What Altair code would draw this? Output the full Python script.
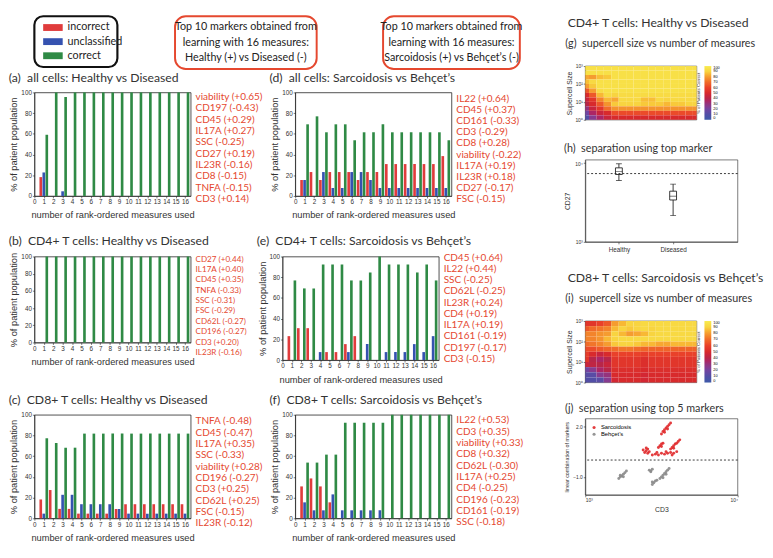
import altair as alt
import pandas as pd

# ---------------- data ----------------
categories = ["incorrect", "unclassified", "correct"]
measures = list(range(1, 17))

a_incorrect = [18.2, 0, 0, 0, 0, 0, 0, 0, 0, 0, 0, 0, 0, 0, 0, 0]
a_unclassified = [22.7, 0, 4.5, 0, 0, 0, 0, 0, 0, 0, 0, 0, 0, 0, 0, 0]
a_correct = [59.1, 100, 95.5, 100, 100, 100, 100, 100, 100, 100, 100, 100, 100, 100, 100, 100]

b_incorrect = [0, 0, 0, 0, 0, 0, 0, 0, 0, 0, 0, 0, 0, 0, 0, 0]
b_unclassified = [0, 0, 0, 0, 0, 0, 0, 0, 0, 0, 0, 0, 0, 0, 0, 0]
b_correct = [100, 100, 100, 100, 100, 100, 100, 100, 100, 100, 100, 100, 100, 100, 100, 100]

c_incorrect = [18.2, 27.3, 9.1, 9.1, 4.5, 4.5, 4.5, 4.5, 9.1, 13.6, 13.6, 13.6, 13.6, 13.6, 13.6, 13.6]
c_unclassified = [4.5, 0, 22.7, 22.7, 13.6, 13.6, 13.6, 13.6, 9.1, 4.5, 4.5, 4.5, 4.5, 4.5, 4.5, 4.5]
c_correct = [77.3, 72.7, 68.2, 68.2, 81.8, 81.8, 81.8, 81.8, 81.8, 81.8, 81.8, 81.8, 81.8, 81.8, 81.8, 81.8]

d_incorrect = [15.4, 23.1, 15.4, 23.1, 23.1, 23.1, 15.4, 23.1, 23.1, 30.8, 30.8, 30.8, 30.8, 30.8, 30.8, 38.5]
d_unclassified = [15.4, 0, 23.1, 7.7, 7.7, 23.1, 23.1, 15.4, 7.7, 7.7, 7.7, 7.7, 7.7, 7.7, 7.7, 7.7]
d_correct = [69.2, 76.9, 61.5, 69.2, 69.2, 53.8, 61.5, 61.5, 69.2, 61.5, 61.5, 61.5, 61.5, 61.5, 61.5, 53.8]

e_incorrect = [23.1, 30.8, 30.8, 0, 7.7, 7.7, 15.4, 23.1, 0, 0, 0, 0, 0, 0, 0, 0]
e_unclassified = [0, 0, 0, 7.7, 0, 0, 7.7, 0, 15.4, 0, 7.7, 7.7, 7.7, 15.4, 7.7, 23.1]
e_correct = [76.9, 69.2, 69.2, 92.3, 92.3, 92.3, 76.9, 76.9, 84.6, 100, 92.3, 92.3, 92.3, 84.6, 92.3, 76.9]

f_incorrect = [30.8, 38.5, 30.8, 15.4, 0, 0, 0, 0, 0, 0, 0, 0, 0, 0, 0, 0]
f_unclassified = [15.4, 7.7, 7.7, 23.1, 7.7, 7.7, 7.7, 7.7, 7.7, 0, 0, 0, 0, 0, 0, 0]
f_correct = [53.8, 53.8, 61.5, 61.5, 92.3, 92.3, 92.3, 92.3, 92.3, 100, 100, 100, 100, 100, 100, 100]

a_markers = ["viability (+0.65)", "CD197 (-0.43)", "CD45 (+0.29)", "IL17A (+0.27)", "SSC (-0.25)",
             "CD27 (+0.19)", "IL23R (-0.16)", "CD8 (-0.15)", "TNFA (-0.15)", "CD3 (+0.14)"]
b_markers = ["CD27 (+0.44)", "IL17A (+0.40)", "CD45 (+0.35)", "TNFA (-0.33)", "SSC (-0.31)",
             "FSC (-0.29)", "CD62L (-0.27)", "CD196 (-0.27)", "CD3 (+0.20)", "IL23R (-0.16)"]
c_markers = ["TNFA (-0.48)", "CD45 (-0.47)", "IL17A (+0.35)", "SSC (-0.33)", "viability (+0.28)",
             "CD196 (-0.27)", "CD3 (+0.25)", "CD62L (+0.25)", "FSC (-0.15)", "IL23R (-0.12)"]
d_markers = ["IL22 (+0.64)", "CD45 (+0.37)", "CD161 (-0.33)", "CD3 (-0.29)", "CD8 (+0.28)",
             "viability (-0.22)", "IL17A (+0.19)", "IL23R (+0.18)", "CD27 (-0.17)", "FSC (-0.15)"]
e_markers = ["CD45 (+0.64)", "IL22 (+0.44)", "SSC (-0.25)", "CD62L (-0.25)", "IL23R (+0.24)",
             "CD4 (+0.19)", "IL17A (+0.19)", "CD161 (-0.19)", "CD197 (-0.17)", "CD3 (-0.15)"]
f_markers = ["IL22 (+0.53)", "CD3 (+0.35)", "viability (+0.33)", "CD8 (+0.32)", "CD62L (-0.30)",
             "IL17A (+0.25)", "CD4 (-0.25)", "CD196 (-0.23)", "CD161 (-0.19)", "SSC (-0.18)"]

callout1_lines = ["Top 10 markers obtained from", "learning with 16 measures:", "Healthy (+) vs Diseased (-)"]
callout2_lines = ["Top 10 markers obtained from", "learning with 16 measures:", "Sarcoidosis (+) vs Behçet’s (-)"]

# heatmap (g): rows from top (10^2.75-10^3) to bottom (10^0-10^0.25), 16 columns
g_rows = [
    [95, 95, 95, 95, 95, 95, 95, 95, 95, 95, 95, 95, 95, 95, 95, 95],
    [95, 95, 95, 95, 95, 95, 95, 95, 95, 95, 95, 95, 95, 95, 95, 95],
    [82, 80, 86, 88, 95, 95, 95, 95, 95, 95, 95, 95, 95, 95, 95, 95],
    [86, 92, 95, 95, 95, 95, 95, 95, 95, 95, 95, 95, 95, 95, 95, 95],
    [80, 88, 95, 95, 95, 95, 95, 95, 95, 95, 95, 95, 95, 95, 95, 95],
    [65, 80, 93, 95, 95, 95, 95, 95, 95, 95, 95, 95, 95, 95, 95, 95],
    [50, 65, 85, 93, 90, 93, 93, 93, 93, 93, 93, 93, 93, 93, 93, 93],
    [45, 55, 75, 85, 82, 92, 92, 92, 86, 86, 92, 90, 92, 92, 92, 92],
    [40, 50, 65, 78, 88, 90, 90, 90, 88, 88, 88, 85, 88, 88, 90, 90],
    [30, 45, 55, 70, 78, 78, 78, 78, 78, 78, 78, 78, 78, 78, 78, 78],
    [20, 35, 45, 50, 62, 62, 62, 62, 62, 62, 62, 62, 62, 62, 62, 62],
    [10, 25, 35, 45, 50, 50, 50, 50, 50, 50, 50, 50, 50, 50, 50, 50],
]
# heatmap (i)
i_rows = [
    [55, 55, 60, 65, 80, 85, 90, 90, 92, 92, 92, 92, 92, 92, 92, 92],
    [65, 70, 72, 75, 85, 90, 88, 90, 92, 90, 92, 92, 92, 92, 92, 92],
    [75, 75, 78, 80, 90, 85, 80, 82, 85, 90, 92, 92, 92, 92, 92, 92],
    [75, 75, 78, 85, 90, 92, 92, 92, 92, 92, 92, 92, 92, 92, 92, 92],
    [70, 72, 75, 80, 88, 90, 90, 88, 85, 85, 82, 82, 85, 85, 85, 85],
    [62, 62, 65, 68, 70, 72, 72, 70, 68, 68, 68, 68, 68, 68, 68, 68],
    [58, 50, 45, 50, 60, 60, 60, 60, 58, 60, 60, 60, 60, 60, 60, 60],
    [55, 40, 35, 40, 55, 55, 55, 55, 52, 55, 55, 55, 55, 55, 55, 55],
    [45, 42, 40, 45, 55, 55, 55, 55, 52, 55, 55, 55, 55, 55, 55, 55],
    [20, 25, 35, 40, 52, 52, 52, 52, 50, 52, 52, 52, 52, 52, 52, 52],
    [12, 12, 25, 30, 50, 50, 50, 50, 48, 50, 50, 50, 50, 50, 50, 50],
    [10, 10, 12, 25, 48, 50, 50, 50, 48, 50, 50, 50, 50, 50, 50, 50],
]

# boxplot (h): CD27
box_groups = ["Healthy", "Diseased"]
box_pos = [1, 2]
box_lo = [6000, 2160]
box_q1 = [7160, 3400]
box_med = [7800, 3800]
box_q3 = [8700, 4400]
box_hi = [9800, 5400]
box_threshold = [7360]

# scatter (j): log10(CD3), linear combination of markers
sarc_logx = [3.39, 3.40, 3.41, 3.40, 3.42, 3.38, 3.41,
             3.50, 3.51, 3.52, 3.53, 3.54, 3.55, 3.52, 3.54, 3.56,
             3.48, 3.49, 3.50, 3.51, 3.50,
             3.44, 3.46, 3.48, 3.50, 3.52, 3.54, 3.56, 3.58, 3.60, 3.47, 3.53, 3.57,
             3.56, 3.57, 3.58, 3.59, 3.60, 3.61, 3.62, 3.58]
sarc_y = [0.45, 0.55, 0.65, 0.72, 0.50, 0.60, 0.40,
          1.55, 1.70, 1.80, 1.90, 2.00, 2.10, 1.65, 1.85, 2.20,
          0.75, 0.85, 0.95, 1.00, 0.80,
          0.30, 0.35, 0.30, 0.40, 0.35, 0.40, 0.45, 0.40, 0.50, 0.45, 0.50, 0.30,
          0.65, 0.75, 0.85, 0.95, 1.00, 1.10, 1.20, 0.70]
behc_logx = [3.22, 3.23, 3.24, 3.25, 3.26, 3.27, 3.23, 3.25,
             3.42, 3.43, 3.44, 3.43,
             3.44, 3.45, 3.46, 3.44, 3.47,
             3.49, 3.50, 3.51, 3.52, 3.53, 3.54, 3.55, 3.51, 3.53]
behc_y = [-1.10, -1.00, -0.95, -0.85, -0.75, -0.65, -0.90, -1.00,
          -0.60, -0.70, -0.55, -0.65,
          -1.45, -1.35, -1.25, -1.30, -1.20,
          -1.10, -1.00, -0.90, -0.80, -0.70, -0.60, -0.50, -1.05, -0.85]

# ---------------- styles ----------------
RED, BLUE, GREEN = "#d93a3a", "#2c3f9e", "#2e8540"
TXT_RED = "#e5482f"
INK = "#333333"
TFONT = "Lato"
AFONT = "Liberation Sans"
HEAT = alt.Scale(domain=[0, 10, 20, 30, 40, 50, 60, 70, 80, 90, 100],
                 range=["#3d5aa8", "#524ea6", "#7244a0", "#95337c", "#b82648", "#d82a2c",
                        "#e9412a", "#f06b2a", "#f59c30", "#f8d440", "#f8ec50"])
BAR_W = 160


def bar_panel(inc, unc, cor, h):
    df = pd.DataFrame({
        "n": measures * 3,
        "cat": [categories[0]] * 16 + [categories[1]] * 16 + [categories[2]] * 16,
        "v": inc + unc + cor,
        "k": [-1] * 16 + [0] * 16 + [1] * 16,
    })
    return alt.Chart(df).transform_calculate(
        x0="datum.n + datum.k*0.32 - 0.14", x1="datum.n + datum.k*0.32 + 0.14"
    ).mark_bar().encode(
        x=alt.X("x0:Q", scale=alt.Scale(domain=[0, 16.6], nice=False, zero=False),
                axis=alt.Axis(values=list(range(17)), title="number of rank-ordered measures used",
                              labelFontSize=6.5, titleFontSize=9.5, tickSize=2, labelPadding=1,
                              titlePadding=5, labelFlush=False)),
        x2="x1:Q",
        y=alt.Y("v:Q", scale=alt.Scale(domain=[0, 100], nice=False),
                axis=alt.Axis(values=[0, 20, 40, 60, 80, 100], title="% of patient population",
                              labelFontSize=6.5, titleFontSize=9.5, tickSize=2, labelPadding=1,
                              titlePadding=2)),
        y2=alt.datum(0),
        color=alt.Color("cat:N", scale=alt.Scale(domain=categories, range=[RED, BLUE, GREEN]), legend=None),
    ).properties(width=BAR_W, height=h, view=alt.ViewBackground(stroke="#222", strokeWidth=0.8))


def text_panel(labels, h, pad, fs=10.2):
    df = pd.DataFrame({"rank": list(range(len(labels))), "label": labels})
    return alt.Chart(df).mark_text(align="left", baseline="middle", font=TFONT, fontSize=fs,
                                   color=TXT_RED).encode(
        x=alt.value(0),
        y=alt.Y("rank:O", scale=alt.Scale(type="point", padding=pad), axis=None),
        text="label:N",
    ).properties(width=56, height=h)


def group(bar, txt, title):
    return alt.hconcat(bar, txt, spacing=5, bounds="flush",
                       title=alt.TitleParams(title, anchor="start", fontSize=12.5, font=TFONT,
                                             color=INK, fontWeight="normal", offset=5))


ga = group(bar_panel(a_incorrect, a_unclassified, a_correct, 106), text_panel(a_markers, 114, 0.42),
           "(a)\u00a0\u00a0all cells: Healthy vs Diseased")
gb = group(bar_panel(b_incorrect, b_unclassified, b_correct, 88), text_panel(b_markers, 102, 0.3, 8.3),
           "(b)\u00a0\u00a0CD4+ T cells: Healthy vs Diseased")
gc = group(bar_panel(c_incorrect, c_unclassified, c_correct, 106), text_panel(c_markers, 118, 0.58),
           "(c)\u00a0\u00a0CD8+ T cells: Healthy vs Diseased")
gd = group(bar_panel(d_incorrect, d_unclassified, d_correct, 106), text_panel(d_markers, 116, 0.58),
           "(d)\u00a0\u00a0all cells: Sarcoidosis vs Behçet’s")
ge = group(bar_panel(e_incorrect, e_unclassified, e_correct, 106), text_panel(e_markers, 106, 0.1),
           "(e)\u00a0\u00a0CD4+ T cells: Sarcoidosis vs Behçet’s")
gf = group(bar_panel(f_incorrect, f_unclassified, f_correct, 106), text_panel(f_markers, 116, 0.5),
           "(f)\u00a0\u00a0CD8+ T cells: Sarcoidosis vs Behçet’s")

# ---- top row: legend box and callouts ----
leg_df = pd.DataFrame({"cat": categories})
leg_base = alt.Chart(leg_df).encode(
    y=alt.Y("cat:N", sort=categories, axis=None, scale=alt.Scale(type="point", padding=0.8)))
leg_sw = leg_base.mark_point(shape="M-1,-0.35H1V0.35H-1Z", filled=True, size=400, opacity=1).encode(
    x=alt.value(19), color=alt.Color("cat:N", scale=alt.Scale(domain=categories, range=["#e03c3c", "#3552b0", "#2f8a45"]), legend=None))
leg_tx = leg_base.mark_text(align="left", baseline="middle", fontSize=11, font=TFONT, color="#222").encode(
    x=alt.value(34), text="cat:N")
legend_box = alt.layer(leg_sw, leg_tx).properties(
    width=85, height=52, view=alt.ViewBackground(stroke="#111", strokeWidth=2.2, cornerRadius=9))


def callout(lines, w, h):
    df = pd.DataFrame({"i": list(range(len(lines))), "t": lines})
    return alt.Chart(df).mark_text(fontSize=11, font=TFONT, color="#222", baseline="middle").encode(
        x=alt.value(w / 2),
        y=alt.Y("i:O", axis=None, scale=alt.Scale(type="point", padding=0.75)),
        text="t:N",
    ).properties(width=w, height=h, view=alt.ViewBackground(stroke=TXT_RED, strokeWidth=2, cornerRadius=11))


top_row = alt.hconcat(
    alt.hconcat(legend_box, callout(callout1_lines, 145, 54), spacing=50),
    callout(callout2_lines, 140, 54), spacing=62)

row1 = alt.hconcat(ga, gd, spacing=6)
row2 = alt.hconcat(gb, ge, spacing=6)
row3 = alt.hconcat(gc, gf, spacing=6)
left_block = alt.vconcat(
    top_row,
    alt.vconcat(row1, alt.vconcat(row2, row3, spacing=10), spacing=14),
    spacing=2)


# ---------------- right column ----------------
def header(text, w, h, fs):
    return alt.Chart(pd.DataFrame({"t": [text]})).mark_text(
        align="left", baseline="middle", fontSize=fs, font=TFONT, color=INK).encode(
        x=alt.value(-18), y=alt.value(h / 2), text="t:N").properties(width=w, height=h)


def heatmap(rows, h, w, title):
    recs = []
    nr = len(rows)
    for ri, row in enumerate(rows):
        for ci, v in enumerate(row):
            recs.append({"c": ci + 1, "r": nr - 1 - ri, "v": v})
    df = pd.DataFrame(recs)
    base = alt.Chart(df).transform_calculate(
        xa="max(1, datum.c - 0.5)", xb="min(16, datum.c + 0.5)",
        ya="pow(10, datum.r*0.25)", yb="pow(10, datum.r*0.25 + 0.25)",
    )
    xs = alt.Scale(domain=[1, 16], nice=False, zero=False)
    ys = alt.Scale(type="log", domain=[1, 1000], nice=False)
    rects = base.mark_rect().encode(
        x=alt.X("xa:Q", scale=xs,
                axis=alt.Axis(values=list(range(1, 17)), title="Number of Parameters", labelFontSize=5,
                              titleFontSize=7, tickSize=2, labelPadding=1, titlePadding=2)),
        x2="xb:Q",
        y=alt.Y("ya:Q", scale=ys,
                axis=alt.Axis(values=[1, 10, 100, 1000], title="Supercell Size", labelFontSize=5,
                              titleFontSize=7, tickSize=2, labelPadding=1, titlePadding=3,
                              labelExpr="datum.value == 1 ? '10⁰' : datum.value == 10 ? '10¹' : datum.value == 100 ? '10²' : '10³'")),
        y2="yb:Q",
        color=alt.Color("v:Q", scale=HEAT, legend=alt.Legend(
            type="gradient", title=None, direction="vertical", gradientLength=h, gradientThickness=7,
            values=[0, 10, 20, 30, 40, 50, 60, 70, 80, 90, 100], labelFontSize=4,
            offset=4, labelOffset=2, labelFont=AFONT, gradientStrokeWidth=0, labelOverlap=False)),
    )
    side = base.mark_rect(opacity=0).encode(
        x=alt.X("xa:Q", scale=xs, axis=None), x2="xb:Q",
        y=alt.Y("ya:Q", scale=ys, axis=alt.Axis(orient="right", title="% of Patients Correct", labels=False,
                                                 ticks=False, domain=False, titleFontSize=4.5, titleAngle=270,
                                                 titlePadding=4)),
        y2="yb:Q",
    )
    return alt.layer(rects, side).resolve_axis(y="independent").properties(
        width=w, height=h, view=alt.ViewBackground(stroke="#222", strokeWidth=0.6),
        title=alt.TitleParams(title, anchor="start", fontSize=11, font=TFONT, color=INK,
                              fontWeight="normal", offset=15))


box_df = pd.DataFrame({"g": box_groups, "pos": box_pos, "lo": box_lo, "q1": box_q1,
                       "med": box_med, "q3": box_q3, "hi": box_hi})
thr_df = pd.DataFrame({"thr": box_threshold})
bx = alt.X("pos:Q", scale=alt.Scale(domain=[0.47, 3.1], nice=False, zero=False),
           axis=alt.Axis(values=[1, 2], title=None, labelFontSize=6.5, tickSize=2, labelPadding=3,
                         labelExpr="datum.value == 1 ? 'Healthy' : 'Diseased'"))
by_scale = alt.Scale(type="log", domain=[1000, 11000], nice=False)
by_axis = alt.Axis(values=[1000, 10000], title="CD27", labelFontSize=5, titleFontSize=7, tickSize=2,
                   labelPadding=1, titlePadding=4,
                   labelExpr="datum.value == 1000 ? '10³' : '10⁴'")
box_base = alt.Chart(box_df)
whisk = box_base.mark_rule(color="#222", strokeWidth=0.9).encode(
    x=bx, y=alt.Y("lo:Q", scale=by_scale, axis=by_axis), y2="hi:Q")
caps_lo = box_base.mark_tick(color="#222", size=6, thickness=0.9, orient="horizontal").encode(x="pos:Q", y="lo:Q")
caps_hi = box_base.mark_tick(color="#222", size=6, thickness=0.9, orient="horizontal").encode(x="pos:Q", y="hi:Q")
boxes = box_base.mark_bar(fill="white", stroke="#222", strokeWidth=0.9, size=7).encode(
    x="pos:Q", y="q1:Q", y2="q3:Q")
meds = box_base.mark_tick(color="#222", size=7, thickness=0.9, orient="horizontal").encode(x="pos:Q", y="med:Q")
thr = alt.Chart(thr_df).mark_rule(color="#222", strokeDash=[2, 2], strokeWidth=0.9).encode(y="thr:Q")
box_chart = alt.layer(whisk, caps_lo, caps_hi, boxes, meds, thr).properties(
    width=156, height=84, view=alt.ViewBackground(stroke="#222", strokeWidth=0.6),
    title=alt.TitleParams("(h)\u00a0\u00a0separation using top marker", anchor="start", fontSize=11,
                          font=TFONT, color=INK, fontWeight="normal", offset=6))

sc_df = pd.DataFrame({
    "lx": sarc_logx + behc_logx,
    "y": sarc_y + behc_y,
    "grp": ["Sarcoidosis"] * len(sarc_logx) + ["Behçet’s"] * len(behc_logx),
})
thr0_df = pd.DataFrame({"z": [0.0]})
sc_x = alt.X("cd3:Q", scale=alt.Scale(type="log", domain=[1000, 10000], nice=False),
             axis=alt.Axis(values=[1000, 10000], title="CD3", labelFontSize=5, titleFontSize=7,
                           tickSize=2, labelPadding=1, titlePadding=3,
                           labelExpr="datum.value == 1000 ? '10³' : '10⁴'"))
sc_y = alt.Y("y:Q", scale=alt.Scale(domain=[-2.07, 2.46], nice=False),
             axis=alt.Axis(values=[-1, 0, 1, 2], format=".1f", title="linear combination of markers",
                           labelFontSize=5, titleFontSize=5.5, tickSize=2, labelPadding=1, titlePadding=3))
pts = alt.Chart(sc_df).transform_calculate(cd3="pow(10, datum.lx)").mark_point(
    filled=True, size=9, opacity=0.9).encode(
    x=sc_x, y=sc_y,
    color=alt.Color("grp:N", scale=alt.Scale(domain=["Sarcoidosis", "Behçet’s"], range=["#e0282a", "#8a8a8a"]),
                    legend=alt.Legend(title=None, orient="top-left", labelFontSize=6, symbolSize=10,
                                      offset=6, labelFont=AFONT, rowPadding=1)),
)
zero_line = alt.Chart(thr0_df).mark_rule(color="#222", strokeDash=[2, 2], strokeWidth=0.9).encode(y="z:Q")
scatter = alt.layer(zero_line, pts).properties(
    width=156, height=78, view=alt.ViewBackground(stroke="#222", strokeWidth=0.6),
    title=alt.TitleParams("(j)\u00a0\u00a0separation using top 5 markers", anchor="start", fontSize=11,
                          font=TFONT, color=INK, fontWeight="normal", offset=5))

g_chart = heatmap(g_rows, 55, 114, "(g)\u00a0\u00a0supercell size vs number of measures")
i_chart = heatmap(i_rows, 63, 114, "(i)\u00a0\u00a0supercell size vs number of measures")

top1 = alt.vconcat(header("CD4+ T cells: Healthy vs Diseased", 150, 14, 12.5), g_chart, spacing=8
                   ).resolve_scale(color="independent").resolve_legend(color="independent")
top2 = alt.vconcat(header("CD8+ T cells: Sarcoidosis vs Behçet’s", 150, 14, 12.5), i_chart, spacing=8
                   ).resolve_scale(color="independent").resolve_legend(color="independent")
block1 = alt.vconcat(top1, box_chart, spacing=19).resolve_scale(
    color="independent").resolve_legend(color="independent")
block2 = alt.vconcat(top2, scatter, spacing=16).resolve_scale(
    color="independent").resolve_legend(color="independent")
right_col = alt.vconcat(block1, block2, spacing=18).resolve_scale(
    color="independent").resolve_legend(color="independent")

chart = alt.hconcat(left_block, right_col, spacing=40).resolve_scale(
    color="independent").resolve_legend(color="independent").properties(
    padding={"left": 0, "top": 0, "right": 0, "bottom": 0}
).configure_view(strokeWidth=0).configure_axis(
    labelFont=AFONT, titleFont=AFONT, labelColor=INK, titleColor=INK, titleFontWeight="normal",
    domainColor="#222", tickColor="#222", grid=False, domainWidth=0.6, tickWidth=0.6
).configure_concat(spacing=5)

chart.save("out.html", embed_options={"renderer": "svg", "actions": False})
